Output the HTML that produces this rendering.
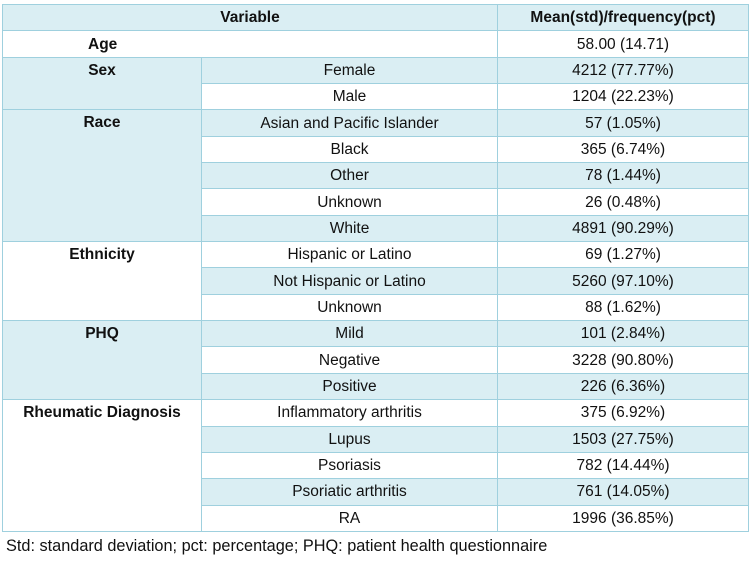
<!DOCTYPE html>
<html><head><meta charset="utf-8"><style>
body{margin:0;width:750px;height:563px;background:#fff;font-family:"Liberation Sans",sans-serif;font-size:15.5px;color:#111;overflow:hidden;position:relative}
table{position:absolute;left:2px;top:4px;border-collapse:collapse;table-layout:fixed;width:746px}
td{border:1px solid #9fd0de;height:25.35px;padding:0;text-align:center;vertical-align:middle;line-height:15px;white-space:nowrap;overflow:hidden}
td.g{vertical-align:top;padding-top:5px;font-weight:bold;height:auto}
.b{background:#daeef3}
.h td{font-weight:bold}
#f{position:absolute;left:6px;top:537px;font-size:16.3px}
</style></head><body>
<table>
<colgroup><col style="width:199px"><col style="width:296px"><col style="width:251px"></colgroup>
<tr class="h b"><td colspan="2">Variable</td><td>Mean(std)/frequency(pct)</td></tr>
<tr><td colspan="2" style="font-weight:bold;text-align:left;padding-left:85px">Age</td><td>58.00 (14.71)</td></tr>
<tr><td rowspan="2" class="g b">Sex</td><td class="b">Female</td><td class="b">4212 (77.77%)</td></tr>
<tr><td>Male</td><td>1204 (22.23%)</td></tr>
<tr><td rowspan="5" class="g b">Race</td><td class="b">Asian and Pacific Islander</td><td class="b">57 (1.05%)</td></tr>
<tr><td>Black</td><td>365 (6.74%)</td></tr>
<tr class="b"><td>Other</td><td>78 (1.44%)</td></tr>
<tr><td>Unknown</td><td>26 (0.48%)</td></tr>
<tr class="b"><td>White</td><td>4891 (90.29%)</td></tr>
<tr><td rowspan="3" class="g">Ethnicity</td><td>Hispanic or Latino</td><td>69 (1.27%)</td></tr>
<tr class="b"><td>Not Hispanic or Latino</td><td>5260 (97.10%)</td></tr>
<tr><td>Unknown</td><td>88 (1.62%)</td></tr>
<tr><td rowspan="3" class="g b">PHQ</td><td class="b">Mild</td><td class="b">101 (2.84%)</td></tr>
<tr><td>Negative</td><td>3228 (90.80%)</td></tr>
<tr class="b"><td>Positive</td><td>226 (6.36%)</td></tr>
<tr><td rowspan="5" class="g">Rheumatic Diagnosis</td><td>Inflammatory arthritis</td><td>375 (6.92%)</td></tr>
<tr class="b"><td>Lupus</td><td>1503 (27.75%)</td></tr>
<tr><td>Psoriasis</td><td>782 (14.44%)</td></tr>
<tr class="b"><td>Psoriatic arthritis</td><td>761 (14.05%)</td></tr>
<tr><td>RA</td><td>1996 (36.85%)</td></tr>
</table>
<div id="f">Std: standard deviation; pct: percentage; PHQ: patient health questionnaire</div>
</body></html>
